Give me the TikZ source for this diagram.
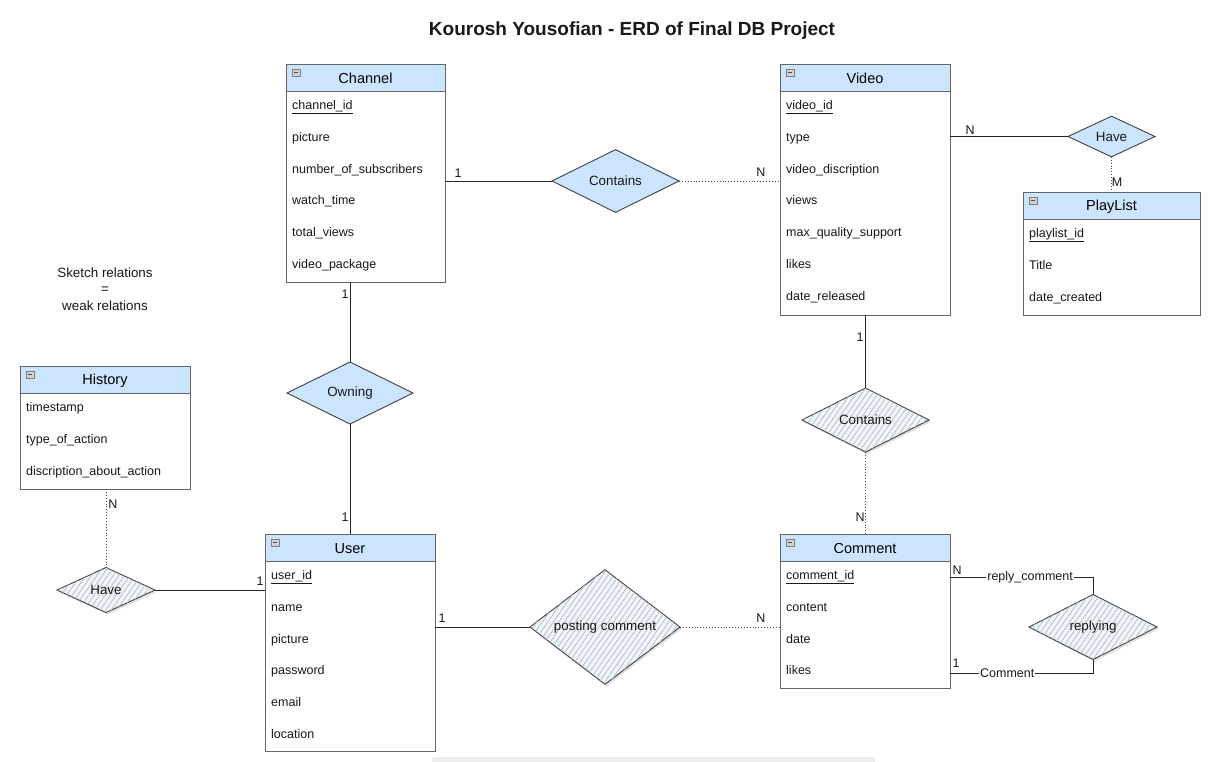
\documentclass[tikz,border=0pt]{standalone}
\usepackage{fontspec}
\setmainfont{Liberation Sans}
\usetikzlibrary{shapes.geometric,patterns,patterns.meta,shadows,calc}
\definecolor{hdrblue}{HTML}{CCE5FF}
\definecolor{boxgray}{HTML}{666666}
\definecolor{hatchbg}{HTML}{F2F5F8}
\definecolor{hatchln}{HTML}{A9BACB}
\tikzset{
  entbox/.style={draw=none, anchor=north west, inner sep=0pt, outer sep=0pt},
  boxline/.style={draw=boxgray, line width=0.9pt},
  hdrtext/.style={font=\fontsize{14.5}{17}\selectfont, text=black, inner sep=0pt},
  attr/.style={font=\fontsize{12.5}{15}\selectfont, text=black!90, anchor=west, inner sep=0pt,
     text height=9.5pt, text depth=3.5pt},
  card/.style={font=\fontsize{12.5}{15}\selectfont, text=black!90, inner sep=0pt},
  reldia/.style={diamond, draw=black!75, line width=0.9pt, inner sep=0pt, outer sep=0pt,
     font=\fontsize{13.4}{16}\selectfont, text=black!90},
  bluedia/.style={reldia, fill=hdrblue},
  hatchdia/.style={reldia, fill=hatchbg,
     postaction={pattern={Lines[angle=55, distance=4.5pt, line width=0.7pt]}, pattern color=hatchln},
     drop shadow={opacity=0.25, shadow xshift=1.5pt, shadow yshift=-2pt}},
  conn/.style={draw=black!85, line width=0.9pt},
  dotconn/.style={draw=black!70, line width=0.9pt, dotted},
}
\newcommand\erent[6]{%
  \node[entbox, minimum width=#4pt, minimum height=#5pt] (#1) at (#2,#3) {};
  \fill[hdrblue] (#1.north west) rectangle ([yshift=-27pt]#1.north east);
  \draw[boxline] (#1.north west) rectangle (#1.south east);
  \draw[boxline] ([yshift=-27pt]#1.north west) -- ([yshift=-27pt]#1.north east);
  \node[hdrtext] (#1-t) at ([yshift=-14.5pt]#1.north) {#6};
  \draw[draw=gray, fill=gray!35, line width=0.5pt] ([xshift=6pt,yshift=-5pt]#1.north west) rectangle ([xshift=14pt,yshift=-12pt]#1.north west);
  \draw[draw=black!70, line width=0.8pt] ([xshift=8pt,yshift=-8.5pt]#1.north west) -- ([xshift=12pt,yshift=-8.5pt]#1.north west);
}
\newcommand\erow[3]{%
  \pgfmathsetmacro\ery{-(42.5+31.8*(#2-1))}%
  \node[attr] (#1-r#2) at ([xshift=6pt,yshift=\ery pt]#1.north west) {#3};
}
\begin{document}
\begin{tikzpicture}[x=1pt,y=-1pt]
\useasboundingbox[fill=white] (0,0) rectangle (1230,761);

% bottom bar
\fill[gray!14, rounded corners=3pt] (432,757) rectangle (875,766);

% title
\node[font=\fontsize{19}{22}\selectfont\bfseries, text=black!90] (title) at (632,31) {Kourosh Yousofian - ERD of Final DB Project};

% note
\node[font=\fontsize{13.4}{17}\selectfont, text=black!90, align=center] (note) at (105,289)
  {Sketch relations\\[-0.5pt]=\\[-0.5pt]weak relations};

% entities
\erent{ch}{286}{64}{159}{218}{Channel}
\erow{ch}{1}{\underline{channel\_id}}
\erow{ch}{2}{picture}
\erow{ch}{3}{number\_of\_subscribers}
\erow{ch}{4}{watch\_time}
\erow{ch}{5}{total\_views}
\erow{ch}{6}{video\_package}

\erent{vd}{780}{64}{170}{251}{Video}
\erow{vd}{1}{\underline{video\_id}}
\erow{vd}{2}{type}
\erow{vd}{3}{video\_discription}
\erow{vd}{4}{views}
\erow{vd}{5}{max\_quality\_support}
\erow{vd}{6}{likes}
\erow{vd}{7}{date\_released}

\erent{pl}{1023}{192}{177}{123}{PlayList}
\erow{pl}{1}{\underline{playlist\_id}}
\erow{pl}{2}{Title}
\erow{pl}{3}{date\_created}

\erent{hi}{20}{366}{170}{123}{History}
\erow{hi}{1}{timestamp}
\erow{hi}{2}{type\_of\_action}
\erow{hi}{3}{discription\_about\_action}

\erent{us}{265}{534}{170}{217}{User}
\erow{us}{1}{\underline{user\_id}}
\erow{us}{2}{name}
\erow{us}{3}{picture}
\erow{us}{4}{password}
\erow{us}{5}{email}
\erow{us}{6}{location}

\erent{cm}{780}{534}{170}{154}{Comment}
\erow{cm}{1}{\underline{comment\_id}}
\erow{cm}{2}{content}
\erow{cm}{3}{date}
\erow{cm}{4}{likes}

% relationships
\node[bluedia, minimum width=127pt, minimum height=62pt] (d1) at (615.5,181) {Contains};
\node[bluedia, minimum width=87pt, minimum height=37pt] (d2) at (1111.5,136.5) {Have};
\node[bluedia, minimum width=126pt, minimum height=62pt] (d3) at (350,393) {Owning};
\node[hatchdia, minimum width=127pt, minimum height=64pt] (d4) at (865.5,420) {Contains};
\node[hatchdia, minimum width=98pt, minimum height=45pt] (d5) at (106,590) {Have};
\node[hatchdia, minimum width=150pt, minimum height=75pt] (d6) at (605,627) {posting comment};
\node[hatchdia, minimum width=128pt, minimum height=65pt] (d7) at (1093,627) {replying};

% connectors
\draw[conn] (ch.east |- d1.west) -- (d1.west);
\draw[dotconn] (d1.east) -- (d1.east -| vd.west);
\draw[conn] (vd.east |- d2.west) -- (d2.west);
\draw[dotconn] (d2.south) -- (d2.south |- pl.north);
\draw[conn] (d3.north |- ch.south) -- (d3.north);
\draw[conn] (d3.south) -- (d3.south |- us.north);
\draw[conn] (d4.north |- vd.south) -- (d4.north);
\draw[dotconn] (d4.south) -- (d4.south |- cm.north);
\draw[dotconn] (d5.north |- hi.south) -- (d5.north);
\draw[conn] (d5.east) -- (d5.east -| us.west);
\draw[conn] (us.east |- d6.west) -- (d6.west);
\draw[dotconn] (d6.east) -- (d6.east -| cm.west);
\draw[conn] ([yshift=-43pt]cm.north east) -| (d7.north)
   node[pos=0.28, fill=white, inner sep=1pt, font=\fontsize{12.5}{15}\selectfont, text=black!90] (lrc) {reply\_comment};
\draw[conn] ([yshift=-139pt]cm.north east) -| (d7.south)
   node[pos=0.2, fill=white, inner sep=1pt, font=\fontsize{12.5}{15}\selectfont, text=black!90] (lcm) {Comment};

% cardinalities
\node[card] (c1) at (458,173) {1};
\node[card] (c2) at (761,172) {N};
\node[card] (c3) at (970,130) {N};
\node[card] (c4) at (1117,182) {M};
\node[card] (c5) at (345,294) {1};
\node[card] (c6) at (345,517) {1};
\node[card] (c7) at (860,337) {1};
\node[card] (c8) at (860,517) {N};
\node[card] (c9) at (113,504) {N};
\node[card] (c10) at (260,581) {1};
\node[card] (c11) at (442,618) {1};
\node[card] (c12) at (761,618) {N};
\node[card] (c13) at (957,570) {N};
\node[card] (c14) at (956,663) {1};
\end{tikzpicture}
\end{document}
